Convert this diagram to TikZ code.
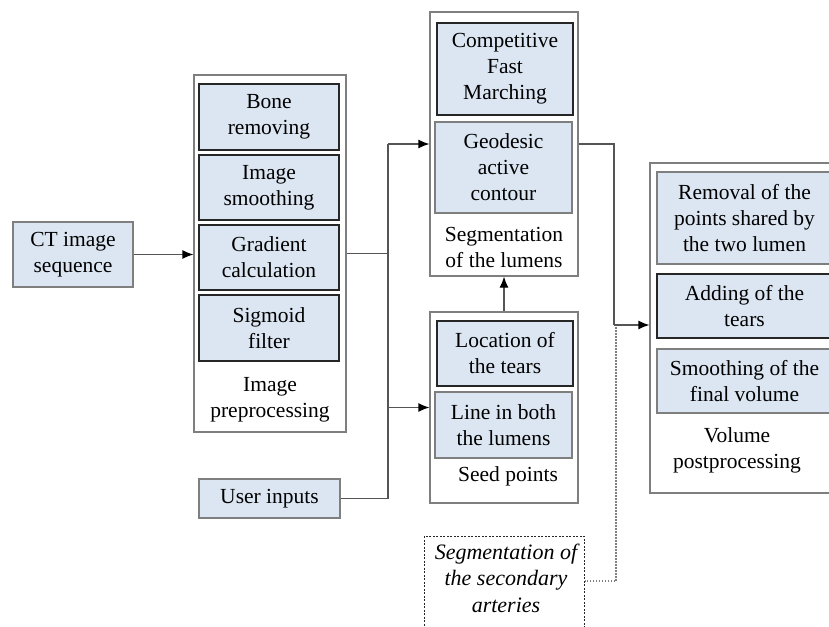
\documentclass[tikz,border=0pt]{standalone}
\usepackage{fontspec}
\setmainfont{Liberation Serif}
\usetikzlibrary{arrows.meta}
\definecolor{boxfill}{HTML}{DCE6F2}
\definecolor{darkline}{HTML}{262626}
\definecolor{grayline}{HTML}{7F7F7F}
\definecolor{connline}{HTML}{555555}
\tikzset{
  inbox/.style={draw=darkline, line width=1.6pt, fill=boxfill, align=center, inner sep=0pt, font=\fontsize{21.5}{26}\selectfont},
  inboxg/.style={inbox, draw=grayline, line width=1.3pt},
  outbox/.style={draw=grayline, line width=1.2pt, fill=white, inner sep=0pt},
  lbl/.style={align=center, inner sep=0pt, font=\fontsize{21.5}{26}\selectfont},
  conn/.style={draw=connline, line width=1.2pt},
  arr/.style={conn, -{Latex[length=11pt,width=9pt,color=black]}},
}
\begin{document}
\begin{tikzpicture}[x=1pt,y=-1pt]
\clip (0,0) rectangle (829,626);
\fill[white] (0,0) rectangle (829,626);
% outer boxes
\node[outbox, minimum width=152pt, minimum height=357pt] (prep) at (270,253.5) {};
\node[outbox, minimum width=148pt, minimum height=264pt] (seg) at (504,144) {};
\node[outbox, minimum width=148pt, minimum height=191pt] (seed) at (504,407.5) {};
\node[outbox, minimum width=188pt, minimum height=330pt] (vol) at (744,328) {};
% left
\node[inboxg, minimum width=120pt, minimum height=65pt] (ct) at (73,254.5) {CT image\\sequence};
\node[inboxg, minimum width=141pt, minimum height=39pt] (user) at (269.5,498.5) {User inputs};
% preprocessing
\node[inbox, minimum width=140pt, minimum height=66pt] (bone) at (269,117) {Bone\\removing};
\node[inbox, minimum width=140pt, minimum height=65pt] (smooth) at (269,187.5) {Image\\smoothing};
\node[inbox, minimum width=140pt, minimum height=65pt] (grad) at (269,257.5) {Gradient\\calculation};
\node[inbox, minimum width=140pt, minimum height=66pt] (sigm) at (269,328) {Sigmoid\\filter};
\node[lbl] (preplbl) at (270,400) {Image\\preprocessing};
% segmentation
\node[inbox, minimum width=136pt, minimum height=92pt] (comp) at (505,69) {Competitive\\Fast\\Marching};
\node[inboxg, minimum width=137pt, minimum height=91pt] (geo) at (503.5,167.5) {Geodesic\\active\\contour};
\node[lbl] (seglbl) at (504,247.5) {Segmentation\\of the lumens};
% seed points
\node[inbox, minimum width=136pt, minimum height=65pt] (loc) at (505,353.5) {Location of\\the tears};
\node[inboxg, minimum width=137pt, minimum height=66pt] (linein) at (503.5,425) {Line in both\\the lumens};
\node[lbl] (seedlbl) at (508,476) {Seed points};
% volume
\node[inboxg, minimum width=175pt, minimum height=92pt] (remov) at (744.5,218) {Removal of the\\points shared by\\the two lumen};
\node[inbox, minimum width=175pt, minimum height=64pt] (adding) at (744.5,306) {Adding of the\\tears};
\node[inboxg, minimum width=175pt, minimum height=64pt] (smvol) at (744.5,381) {Smoothing of the\\final volume};
\node[lbl] (vollbl) at (737,450) {Volume\\postprocessing};
% secondary arteries
\node[draw=darkline, dash pattern=on 2pt off 1.5pt, line width=1pt, minimum width=160pt, minimum height=100pt, inner sep=0pt] (sec) at (504,586) {};
\node[lbl, font=\fontsize{22}{26.5}\selectfont\itshape] (sectxt) at (506,578) {Segmentation of\\the secondary\\arteries};
% connector coordinates
\coordinate (jt) at (388,144);
\coordinate (jm) at (388,253.5);
\coordinate (jb) at (388,407.5);
\coordinate (ju) at (388,498.5);
\coordinate (k1) at (614,144);
\coordinate (k2) at (614,325);
\coordinate (d0) at (616,327);
\coordinate (d1) at (616,581);
% connectors
\draw[arr] (ct.east) -- (ct.east -| prep.west);
\draw[conn] (prep.east) -- (jm);
\draw[conn] (user.east) -- (ju) -- (jt);
\draw[arr] (jt) -- (seg.west);
\draw[arr] (jb) -- (seed.west);
\draw[arr] (seed.north) -- (seg.south);
\draw[conn] (seg.east) -- (k1) -- (k2);
\draw[arr] (k2) -- (k2 -| vol.west);
\draw[draw=grayline, dash pattern=on 1.5pt off 1.5pt, line width=1.3pt] (d0) -- (d1) -- (d1 -| sec.east);
\end{tikzpicture}
\end{document}
